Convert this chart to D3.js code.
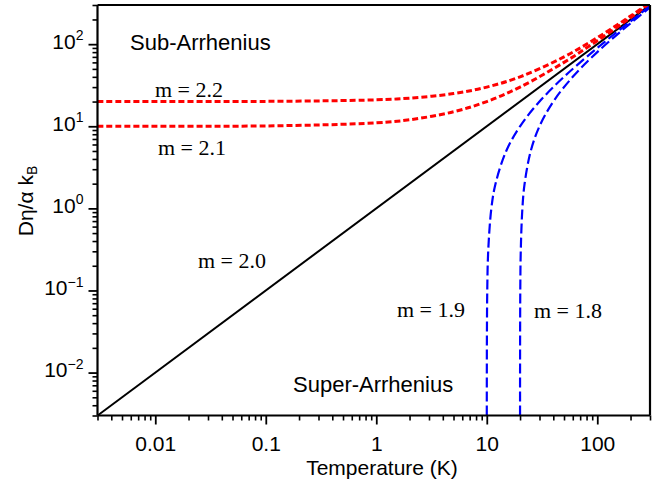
<!DOCTYPE html>
<meta charset="utf-8">
<style>
  body { margin: 0; background: #fff; }
  text { font-family: "Liberation Sans", Arial, sans-serif; fill: #000; }
  .note { font-family: "Liberation Serif", "Times New Roman", serif; font-size: 22px; }
  .region { font-size: 22px; }
  .axis path, .axis line { stroke: #000; }
</style>
<body>
<div id="chart"></div>
<script src="https://d3js.org/d3.v7.min.js"></script>
<script>
// values
var temps20 = [0.003, 300];
var vals20 = [0.003, 300];

var temps22 = [0.003, 0.1, 1, 2, 5, 10, 20, 50, 100, 200, 300];
var vals22 = [20, 20.1, 21, 22, 25, 30, 40, 70, 120, 220, 320];

var temps21 = [0.003, 0.1, 1, 2, 5, 10, 20, 50, 100, 200, 300];
var vals21 = [10, 10.1, 11, 12, 15, 20, 30, 60, 110, 210, 310];

var temps19 = [10.003, 10.01, 10.03, 10.1, 10.3, 11, 12, 15, 20, 30, 50, 100, 200, 300];
var vals19 = [0.003, 0.01, 0.03, 0.1, 0.3, 1, 2, 5, 10, 20, 40, 90, 190, 290];

var temps18 = [20.003, 20.01, 20.03, 20.1, 20.3, 21, 22, 25, 30, 40, 60, 100, 200, 300];
var vals18 = [0.003, 0.01, 0.03, 0.1, 0.3, 1, 2, 5, 10, 20, 40, 80, 180, 280];

var xMajor = [0.01, 0.1, 1, 10, 100];
var xLabels = ["0.01", "0.1", "1", "10", "100"];
var yMajor = [0.01, 0.1, 1, 10, 100];
var yExponents = ["\u22122", "\u22121", "0", "1", "2"];

var W = 659, H = 487;
var plotL = 97.5, plotR = 650, plotT = 5, plotB = 415.5;

var svg = d3.select("#chart").append("svg")
  .attr("width", W)
  .attr("height", H);

var x = d3.scaleLog().domain([0.003, 300]).range([plotL, plotR]);
var y = d3.scaleLog().domain([0.003, 300]).range([plotB, plotT]);

svg.append("defs").append("clipPath")
  .attr("id", "clip")
  .append("rect")
  .attr("x", plotL).attr("y", plotT)
  .attr("width", plotR - plotL).attr("height", plotB - plotT);

function zip(ts, vs) {
  return ts.map(function (t, i) { return [t, vs[i]]; });
}

var line = d3.line()
  .x(function (d) { return x(d[0]); })
  .y(function (d) { return y(d[1]); })
  .curve(d3.curveCatmullRom.alpha(0.5));

var plot = svg.append("g").attr("clip-path", "url(#clip)");

// m = 2.0 straight line
plot.append("path").datum(zip(temps20, vals20))
  .attr("d", line).attr("fill", "none")
  .attr("stroke", "#000").attr("stroke-width", 2);

// sub-Arrhenius (red, dotted)
[zip(temps22, vals22), zip(temps21, vals21)].forEach(function (s) {
  plot.append("path").datum(s)
    .attr("d", line).attr("fill", "none")
    .attr("stroke", "#ff0000").attr("stroke-width", 3)
    .attr("stroke-dasharray", "6,3");
});

// super-Arrhenius (blue, dashed)
[zip(temps19, vals19), zip(temps18, vals18)].forEach(function (s) {
  plot.append("path").datum(s)
    .attr("d", line).attr("fill", "none")
    .attr("stroke", "#0000ff").attr("stroke-width", 2.2)
    .attr("stroke-dasharray", "10,4");
});

// minor ticks
var xMinor = x.ticks().filter(function (d) { return xMajor.indexOf(d) < 0; });
var yMinor = y.ticks().filter(function (d) { return yMajor.indexOf(d) < 0; });

svg.append("g").attr("class", "axis")
  .attr("transform", "translate(0," + plotB + ")")
  .call(d3.axisBottom(x).tickValues(xMinor).tickSize(5).tickSizeOuter(0).tickFormat(""))
  .call(function (g) { g.select(".domain").remove(); })
  .selectAll("line").attr("stroke-width", 1.6);

svg.append("g").attr("class", "axis")
  .attr("transform", "translate(" + plotL + ",0)")
  .call(d3.axisLeft(y).tickValues(yMinor).tickSize(5).tickSizeOuter(0).tickFormat(""))
  .call(function (g) { g.select(".domain").remove(); })
  .selectAll("line").attr("stroke-width", 1.6);

// major ticks + labels
var xAxis = svg.append("g").attr("class", "axis")
  .attr("transform", "translate(0," + plotB + ")")
  .call(d3.axisBottom(x).tickValues(xMajor).tickSize(9).tickPadding(12).tickSizeOuter(0)
    .tickFormat(function (d, i) { return xLabels[i]; }));
xAxis.select(".domain").remove();
xAxis.selectAll("line").attr("stroke-width", 1.8);
xAxis.selectAll("text").attr("font-size", 21).attr("font-family", null);

var yAxis = svg.append("g").attr("class", "axis")
  .attr("transform", "translate(" + plotL + ",0)")
  .call(d3.axisLeft(y).tickValues(yMajor).tickSize(9).tickSizeOuter(0).tickFormat(""));
yAxis.select(".domain").remove();
yAxis.selectAll("line").attr("stroke-width", 1.8);
yAxis.selectAll(".tick").each(function (d, i) {
  var t = d3.select(this).select("text")
    .attr("x", -14).attr("dy", "0.42em")
    .attr("text-anchor", "end").attr("font-family", null);
  t.append("tspan").attr("font-size", 21).text("10");
  t.append("tspan").attr("font-size", 14).attr("dy", "-0.62em").text(yExponents[i]);
});

// frame
var frame = svg.append("g").attr("stroke", "#000").attr("stroke-width", 2.2).attr("fill", "none");
frame.append("line").attr("x1", plotL).attr("x2", plotR).attr("y1", plotB).attr("y2", plotB);
frame.append("line").attr("x1", plotL).attr("x2", plotL).attr("y1", plotT).attr("y2", plotB);
frame.append("line").attr("x1", plotL).attr("x2", plotR).attr("y1", plotT).attr("y2", plotT);
frame.append("line").attr("x1", plotR).attr("x2", plotR).attr("y1", plotT).attr("y2", plotB);

// axis titles
svg.append("text")
  .attr("x", 382).attr("y", 475)
  .attr("text-anchor", "middle").attr("font-size", 21)
  .text("Temperature (K)");

var yt = svg.append("text")
  .attr("transform", "translate(33,201) rotate(-90)")
  .attr("text-anchor", "middle").attr("font-size", 21);
yt.append("tspan").text("D\u03b7/\u03b1 k");
yt.append("tspan").attr("font-size", 14).attr("dy", "0.3em").text("B");

// annotations
svg.append("text").attr("class", "region").attr("x", 130).attr("y", 50).text("Sub-Arrhenius");
svg.append("text").attr("class", "region").attr("x", 293).attr("y", 392).text("Super-Arrhenius");

var notes = [
  { t: "m = 2.2", x: 155, y: 97 },
  { t: "m = 2.1", x: 158, y: 155 },
  { t: "m = 2.0", x: 198, y: 268 },
  { t: "m = 1.9", x: 397, y: 317 },
  { t: "m = 1.8", x: 534, y: 318 }
];
notes.forEach(function (n) {
  svg.append("text").attr("class", "note").attr("x", n.x).attr("y", n.y).text(n.t);
});
</script>
</body>
